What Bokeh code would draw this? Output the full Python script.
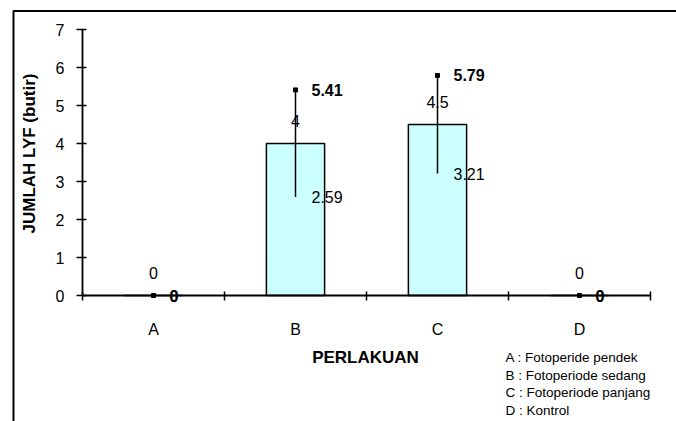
import math
from bokeh.plotting import figure
from bokeh.models import (ColumnDataSource, LabelSet, Label, FixedTicker,
                          BoxAnnotation, Range1d, LinearAxis)
from bokeh.core.properties import value
from bokeh.embed import file_html
from bokeh.resources import INLINE

# ---- data ----
categories = ["A", "B", "C", "D"]
means = [0, 4, 4.5, 0]
upper = [0, 5.41, 5.79, 0]
lower = [0, 2.59, 3.21, 0]
mean_labels = ["0", "4", "4.5", "0"]
upper_labels = ["0", "5.41", "5.79", "0"]
lower_labels = ["0", "2.59", "3.21", "0"]
y_ticks = [0, 1, 2, 3, 4, 5, 6, 7]
legend_lines = ["A : Fotoperide pendek", "B : Fotoperiode sedang",
                "C : Fotoperiode panjang", "D : Kontrol"]
x_title = "PERLAKUAN"
y_title = "JUMLAH LYF (butir)"

FONT = "Liberation Sans"

# ---- layout geometry (pixels) ----
W, H = 676, 421
PX_X0, PX_PER_X = 82, 142     # pixel of x=0, pixels per category
PX_Y0, PX_PER_Y = 295, 38     # pixel of y=0, pixels per unit


def dx(px):
    return (px - PX_X0) / PX_PER_X


def dy(py):
    return (PX_Y0 - py) / PX_PER_Y


xc = [i + 0.5 for i in range(len(categories))]
src = ColumnDataSource(dict(x=xc, mean=means, hi=upper, lo=lower,
                            ml=mean_labels, hl=upper_labels, ll=lower_labels))

p = figure(width=W, height=H, output_backend="svg", toolbar_location=None,
           x_range=Range1d(dx(0), dx(W)), y_range=Range1d(dy(H), dy(0)),
           x_axis_type=None, y_axis_type=None,
           min_border=0, min_border_left=0, min_border_right=0,
           min_border_top=0, min_border_bottom=0)
p.outline_line_color = None
p.background_fill_color = "white"
p.border_fill_color = "white"

# bars
p.vbar(x="x", top="mean", width=0.41, source=src, fill_color="#CCFFFF",
       line_color="black", line_width=1.5)
# error bars
p.segment(x0="x", y0="lo", x1="x", y1="hi", source=src, line_color="black", line_width=1.5)
p.scatter(x="x", y="hi", source=src, marker="square", size=4, color="black")

# x axis
xa = LinearAxis(fixed_location=0, bounds=(0, len(categories)))
xa.ticker = FixedTicker(ticks=xc, minor_ticks=list(range(len(categories) + 1)))
xa.major_label_overrides = {x: c for x, c in zip(xc, categories)}
xa.major_tick_in = 0
xa.major_tick_out = 0
xa.minor_tick_in = 4
xa.minor_tick_out = 5
xa.minor_tick_line_color = "black"
xa.minor_tick_line_width = 1.5
xa.axis_line_color = "black"
xa.axis_line_width = 1.8
xa.major_label_text_font = FONT
xa.major_label_text_font_size = "16px"
xa.major_label_text_color = "black"
xa.major_label_standoff = 20
p.add_layout(xa, "below")

# y axis
ya = LinearAxis(fixed_location=0, bounds=(y_ticks[0], y_ticks[-1]))
ya.ticker = FixedTicker(ticks=y_ticks, minor_ticks=[])
ya.major_tick_in = 4
ya.major_tick_out = 6
ya.major_tick_line_color = "black"
ya.major_tick_line_width = 1.5
ya.axis_line_color = "black"
ya.axis_line_width = 1.8
ya.major_label_text_font = FONT
ya.major_label_text_font_size = "16px"
ya.major_label_text_color = "black"
ya.major_label_standoff = 12
p.add_layout(ya, "left")

# data labels
p.add_layout(LabelSet(x="x", y="mean", text="ml", source=src, y_offset=23,
                      text_align="center", text_baseline="middle",
                      text_font=value(FONT), text_font_size=value("16px"),
                      text_color="black"))
p.add_layout(LabelSet(x="x", y="lo", text="ll", source=src, x_offset=16,
                      text_align="left", text_baseline="middle",
                      text_font=value(FONT), text_font_size=value("16px"),
                      text_color="black"))
p.add_layout(LabelSet(x="x", y="hi", text="hl", source=src, x_offset=16,
                      text_align="left", text_baseline="middle",
                      text_font=value(FONT), text_font_size=value("16px"),
                      text_font_style=value("bold"), text_color="black"))

# titles
p.add_layout(Label(x=dx(365), y=dy(357), text=x_title,
                   text_align="center", text_baseline="middle", text_font=FONT,
                   text_font_size="17px", text_font_style="bold", text_color="black"))
p.add_layout(Label(x=dx(29), y=dy(153), text=y_title,
                   angle=math.pi / 2, text_align="center", text_baseline="middle",
                   text_font=FONT, text_font_size="17px", text_font_style="bold",
                   text_color="black"))

# legend text
for i, t in enumerate(legend_lines):
    p.add_layout(Label(x=dx(505), y=dy(357 + 17.6 * i), text=t,
                       text_align="left", text_baseline="middle",
                       text_font=FONT, text_font_size="13.5px", text_color="black"))

# outer border (top and left edges visible)
p.add_layout(BoxAnnotation(left=dx(13), right=dx(3000), top=dy(10.5), bottom=dy(3000),
                           fill_alpha=0, line_color="black", line_width=2,
                           line_alpha=1))

open("out.html", "w").write(file_html(p, INLINE))
